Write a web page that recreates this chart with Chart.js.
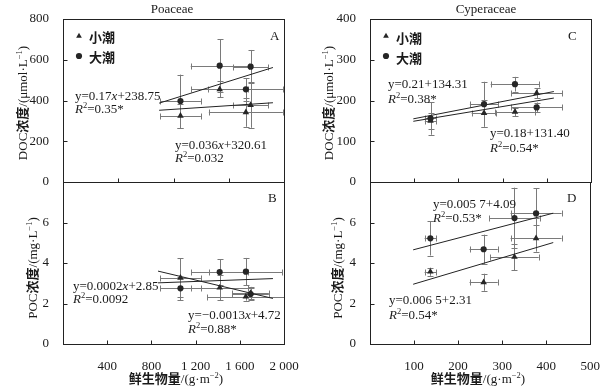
<!DOCTYPE html>
<html><head><meta charset="utf-8">
<script src="https://cdn.jsdelivr.net/npm/chart.js@4.4.1/dist/chart.umd.min.js"></script>
<style>
html,body{margin:0;padding:0;background:#fff;}
#wrap{position:relative;width:607px;height:387px;overflow:hidden;font-family:"Liberation Serif","Times New Roman",serif;color:#1a1a1a;background:#fff;}
canvas{position:absolute;left:0;top:0;}
.t{position:absolute;white-space:nowrap;font-size:13px;line-height:13px;transform:translateY(-50%);}
.c{position:absolute;white-space:nowrap;font-size:13px;line-height:13px;transform:translate(-50%,-50%);}
.rot{position:absolute;white-space:nowrap;font-size:13px;line-height:13px;transform:translate(-50%,-50%) rotate(-90deg);}
.cjk{font-family:"Noto Sans CJK SC",sans-serif;font-weight:700;}
sup{font-size:8.5px;vertical-align:0;position:relative;top:-5px;line-height:0;}
</style></head>
<body>
<div id="wrap">
<canvas id="cA" width="607" height="387"></canvas>
<canvas id="cB" width="607" height="387"></canvas>
<canvas id="cC" width="607" height="387"></canvas>
<canvas id="cD" width="607" height="387"></canvas>

<div class="c" style="left:172px;top:8px;">Poaceae</div>
<div class="c" style="left:486px;top:8px;">Cyperaceae</div>

<div class="t" style="left:270px;top:35px;">A</div>
<div class="t" style="left:268px;top:197px;">B</div>
<div class="t" style="left:568px;top:35px;">C</div>
<div class="t" style="left:567px;top:197px;">D</div>

<div class="t cjk" style="left:89px;top:36px;">小潮</div>
<div class="t cjk" style="left:89px;top:56px;">大潮</div>
<div class="t cjk" style="left:396px;top:37px;">小潮</div>
<div class="t cjk" style="left:396px;top:57px;">大潮</div>

<div class="t" style="left:75px;top:95px;">y=0.17<i>x</i>+238.75</div>
<div class="t" style="left:75px;top:108px;"><i>R</i><sup>2</sup>=0.35*</div>
<div class="t" style="left:175px;top:144px;">y=0.036<i>x</i>+320.61</div>
<div class="t" style="left:175px;top:157px;"><i>R</i><sup>2</sup>=0.032</div>

<div class="t" style="left:73px;top:285px;">y=0.0002<i>x</i>+2.85</div>
<div class="t" style="left:73px;top:298px;"><i>R</i><sup>2</sup>=0.0092</div>
<div class="t" style="left:188px;top:314px;">y=−0.0013<i>x</i>+4.72</div>
<div class="t" style="left:188px;top:328px;"><i>R</i><sup>2</sup>=0.88*</div>

<div class="t" style="left:388px;top:83px;">y=0.21+134.31</div>
<div class="t" style="left:388px;top:98px;"><i>R</i><sup>2</sup>=0.38*</div>
<div class="t" style="left:490px;top:132px;">y=0.18+131.40</div>
<div class="t" style="left:490px;top:147px;"><i>R</i><sup>2</sup>=0.54*</div>

<div class="t" style="left:433px;top:203px;">y=0.005 7+4.09</div>
<div class="t" style="left:433px;top:217px;"><i>R</i><sup>2</sup>=0.53*</div>
<div class="t" style="left:389px;top:299px;">y=0.006 5+2.31</div>
<div class="t" style="left:389px;top:314px;"><i>R</i><sup>2</sup>=0.54*</div>

<div class="rot" style="left:22px;top:103px;">DOC<span class="cjk">浓度</span>/(μmol·L<sup>−1</sup>)</div>
<div class="rot" style="left:32px;top:268px;">POC<span class="cjk">浓度</span>/(mg·L<sup>−1</sup>)</div>
<div class="rot" style="left:328px;top:103px;">DOC<span class="cjk">浓度</span>/(μmol·L<sup>−1</sup>)</div>
<div class="rot" style="left:337px;top:268px;">POC<span class="cjk">浓度</span>/(mg·L<sup>−1</sup>)</div>

<div class="c" style="left:176px;top:378px;"><span class="cjk">鲜生物量</span>/(g·m<sup>−2</sup>)</div>
<div class="c" style="left:478px;top:378px;"><span class="cjk">鲜生物量</span>/(g·m<sup>−2</sup>)</div>
</div>

<script>
// ---------------- DATA ----------------
// Poaceae (panels A, B) — fresh biomass (g·m-2)
const poaBiomass        = [1063, 1418, 1655, 1698];
// A: DOC (μmol·L-1)
const poaDocNeap        = [325, 455, 342, 378];   // 小潮 (triangles)
const poaDocNeapErr     = [60, 40, 71, 112];
const poaDocNeapXErr    = [185, 256, 335, 160];
const poaDocSpring      = [397, 571, 455, 566];   // 大潮 (circles)
const poaDocSpringErr   = [130, 130, 55, 82];
const poaDocSpringXErr  = [185, 262, 340, 160];
const poaDocNeapFit     = [[870, 352], [1900, 389]];
const poaDocSpringFit   = [[870, 387], [1900, 562]];
// B: POC (mg·L-1)
const poaPocNeap        = [3.27, 2.78, 2.34, 2.52];
const poaPocNeapErr     = [0.96, 0.62, 0.20, 0.30];
const poaPocNeapXErr    = [185, 256, 350, 165];
const poaPocSpring      = [2.75, 3.55, 3.57, 2.47];
const poaPocSpringErr   = [0.58, 0.64, 0.68, 0.30];
const poaPocSpringXErr  = [185, 256, 330, 165];
const poaPocNeapFit     = [[860, 3.60], [1900, 2.25]];
const poaPocSpringFit   = [[860, 3.02], [1900, 3.23]];

// Cyperaceae (panels C, D)
const cypBiomass        = [137, 258, 328, 377];
// C: DOC
const cypDocNeap        = [150, 169, 172, 218];
const cypDocNeapErr     = [20, 33, 10, 12];
const cypDocNeapXErr    = [13, 28, 45, 58];
const cypDocSpring      = [156, 191, 240, 183];
const cypDocSpringErr   = [40, 55, 18, 12];
const cypDocSpringXErr  = [13, 32, 55, 58];
const cypDocFitUpper    = [[98, 155], [416, 222]];
const cypDocFitLower    = [[98, 149], [416, 206]];
// D: POC
const cypPocNeap        = [3.57, 3.05, 4.30, 5.22];
const cypPocNeapErr     = [0.20, 0.42, 0.66, 0.66];
const cypPocNeapXErr    = [13, 32, 55, 58];
const cypPocSpring      = [5.22, 4.68, 6.22, 6.45];
const cypPocSpringErr   = [0.85, 0.72, 1.50, 1.24];
const cypPocSpringXErr  = [13, 32, 57, 58];
const cypPocNeapFit     = [[98, 2.95], [416, 5.01]];
const cypPocSpringFit   = [[98, 4.65], [416, 6.46]];

// Axis ranges / ticks
const poaXRange   = [0, 2000];
const cypXRange   = [0, 500];
const poaDocYRange = [0, 800];
const cypDocYRange = [0, 400];
const pocYRange    = [0, 8];

// ---------------- RENDER ----------------
const W = 607, H = 387, Y_AXIS_W = 40, X_AXIS_H = 30;
const SERIF = '"Liberation Serif", "Times New Roman", serif';
const INK = '#1a1a1a';
const MARK = '#262626';

function pts(xs, ys){ return xs.map((x, i) => ({x: x, y: ys[i]})); }
function fitPts(f){ return f.map(p => ({x: p[0], y: p[1]})); }
function scatterSet(label, style, xs, ys, xErr, yErr){
  return {label, data: pts(xs, ys), xErr, yErr, pointStyle: style,
    pointRadius: style === 'triangle' ? 3.8 : 3.1, pointBorderWidth: 0,
    backgroundColor: MARK, borderColor: MARK, showLine: false, order: 0};
}
function fitSet(f){
  return {label: 'fit', data: fitPts(f), showLine: true, borderColor: '#222',
    borderWidth: 1, pointRadius: 0, fill: false, order: 1};
}
const fmtThousands = v => {
  if (v === 0) return '';
  const s = String(v);
  return s.length > 3 ? s.slice(0, s.length - 3) + ' ' + s.slice(-3) : s;
};

const deco = {
  id: 'panelDeco',
  beforeDatasetsDraw(chart){
    const {ctx, chartArea: a} = chart;
    const xs = chart.scales.x, ys = chart.scales.y;
    ctx.save();
    ctx.beginPath(); ctx.rect(a.left, a.top, a.right - a.left, a.bottom - a.top); ctx.clip();
    ctx.strokeStyle = '#7a7a7a'; ctx.lineWidth = 1;
    const c = 3;
    chart.data.datasets.forEach(ds => {
      if (!ds.xErr) return;
      ds.data.forEach((p, j) => {
        const px = Math.round(xs.getPixelForValue(p.x)) + 0.5;
        const py = Math.round(ys.getPixelForValue(p.y)) + 0.5;
        const x0 = xs.getPixelForValue(p.x - ds.xErr[j]), x1 = xs.getPixelForValue(p.x + ds.xErr[j]);
        const y0 = ys.getPixelForValue(p.y - ds.yErr[j]), y1 = ys.getPixelForValue(p.y + ds.yErr[j]);
        ctx.beginPath();
        ctx.moveTo(x0, py); ctx.lineTo(x1, py);
        ctx.moveTo(Math.round(x0) + 0.5, py - c); ctx.lineTo(Math.round(x0) + 0.5, py + c);
        ctx.moveTo(Math.round(x1) + 0.5, py - c); ctx.lineTo(Math.round(x1) + 0.5, py + c);
        ctx.moveTo(px, y0); ctx.lineTo(px, y1);
        ctx.moveTo(px - c, Math.round(y0) + 0.5); ctx.lineTo(px + c, Math.round(y0) + 0.5);
        ctx.moveTo(px - c, Math.round(y1) + 0.5); ctx.lineTo(px + c, Math.round(y1) + 0.5);
        ctx.stroke();
      });
    });
    ctx.restore();
  },
  afterDraw(chart, args, opts){
    const {ctx, chartArea: a} = chart;
    const xs = chart.scales.x, ys = chart.scales.y;
    ctx.save();
    ctx.strokeStyle = '#222'; ctx.lineWidth = 1;
    const L = Math.round(a.left) + 0.5, T = Math.round(a.top) + 0.5;
    const R = Math.round(a.right) + 0.5, B = Math.round(a.bottom) + 0.5;
    ctx.strokeRect(L, T, R - L, B - T);
    const tl = 4;
    ctx.beginPath();
    xs.ticks.forEach(t => {
      if (t.value <= xs.min || t.value >= xs.max) return;
      const px = Math.round(xs.getPixelForValue(t.value)) + 0.5;
      ctx.moveTo(px, B); ctx.lineTo(px, B - tl);
    });
    ys.ticks.forEach(t => {
      if (t.value <= ys.min || t.value >= ys.max) return;
      const py = Math.round(ys.getPixelForValue(t.value)) + 0.5;
      ctx.moveTo(L, py); ctx.lineTo(L + tl, py);
    });
    ctx.stroke();
    if (opts && opts.legend) {
      ctx.fillStyle = MARK;
      const lx = a.left + 16, ty = a.top + 17, cy = a.top + 37;
      const r = 3.3;
      ctx.beginPath();
      ctx.moveTo(lx, ty - r);
      ctx.lineTo(lx + r * 0.866, ty + r * 0.5);
      ctx.lineTo(lx - r * 0.866, ty + r * 0.5);
      ctx.closePath(); ctx.fill();
      ctx.beginPath(); ctx.arc(lx, cy, 3.1, 0, Math.PI * 2); ctx.fill();
    }
    ctx.restore();
  }
};

function makePanel(id, area, xr, yr, datasets, flags){
  return new Chart(document.getElementById(id), {
    type: 'scatter',
    data: {datasets},
    options: {
      responsive: false, animation: false, devicePixelRatio: 1, events: [],
      layout: {padding: {left: area.left - Y_AXIS_W, top: area.top,
        right: W - area.right, bottom: H - area.bottom - X_AXIS_H}},
      plugins: {legend: {display: false}, tooltip: {enabled: false}, panelDeco: flags},
      scales: {
        x: {type: 'linear', position: 'bottom', min: xr.range[0], max: xr.range[1],
          ticks: {display: xr.labels, stepSize: xr.step, padding: 7, color: INK,
            font: {family: SERIF, size: 13}, maxRotation: 0, minRotation: 0, autoSkip: false,
            callback: fmtThousands},
          grid: {display: false}, border: {display: false},
          afterFit(s){ s.height = X_AXIS_H; }},
        y: {type: 'linear', position: 'left', min: yr.range[0], max: yr.range[1],
          ticks: {stepSize: yr.step, padding: 6, color: INK, font: {family: SERIF, size: 13},
            autoSkip: false, callback: v => (yr.hideTop && v === yr.range[1]) ? '' : String(v)},
          grid: {display: false}, border: {display: false},
          afterFit(s){ s.width = Y_AXIS_W; }}
      }
    },
    plugins: [deco]
  });
}

makePanel('cA', {left: 63, top: 19, right: 284, bottom: 182},
  {range: poaXRange, step: 500, labels: false}, {range: poaDocYRange, step: 200},
  [scatterSet('小潮', 'triangle', poaBiomass, poaDocNeap, poaDocNeapXErr, poaDocNeapErr),
   scatterSet('大潮', 'circle', poaBiomass, poaDocSpring, poaDocSpringXErr, poaDocSpringErr),
   fitSet(poaDocNeapFit), fitSet(poaDocSpringFit)], {legend: true});

makePanel('cB', {left: 63, top: 182, right: 284, bottom: 344},
  {range: poaXRange, step: 400, labels: true}, {range: pocYRange, step: 2, hideTop: true},
  [scatterSet('小潮', 'triangle', poaBiomass, poaPocNeap, poaPocNeapXErr, poaPocNeapErr),
   scatterSet('大潮', 'circle', poaBiomass, poaPocSpring, poaPocSpringXErr, poaPocSpringErr),
   fitSet(poaPocNeapFit), fitSet(poaPocSpringFit)], {legend: false});

makePanel('cC', {left: 370, top: 19, right: 591, bottom: 182},
  {range: cypXRange, step: 100, labels: false}, {range: cypDocYRange, step: 100},
  [scatterSet('小潮', 'triangle', cypBiomass, cypDocNeap, cypDocNeapXErr, cypDocNeapErr),
   scatterSet('大潮', 'circle', cypBiomass, cypDocSpring, cypDocSpringXErr, cypDocSpringErr),
   fitSet(cypDocFitUpper), fitSet(cypDocFitLower)], {legend: true});

makePanel('cD', {left: 370, top: 182, right: 591, bottom: 344},
  {range: cypXRange, step: 100, labels: true}, {range: pocYRange, step: 2, hideTop: true},
  [scatterSet('小潮', 'triangle', cypBiomass, cypPocNeap, cypPocNeapXErr, cypPocNeapErr),
   scatterSet('大潮', 'circle', cypBiomass, cypPocSpring, cypPocSpringXErr, cypPocSpringErr),
   fitSet(cypPocNeapFit), fitSet(cypPocSpringFit)], {legend: false});
</script>
</body></html>
